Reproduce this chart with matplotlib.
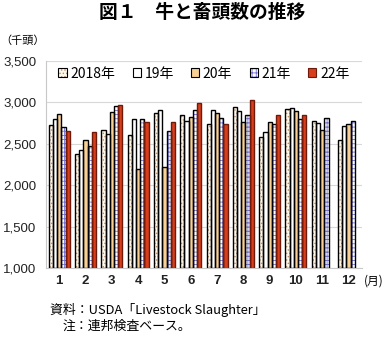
import numpy as np
import matplotlib
matplotlib.use("Agg")
import matplotlib.pyplot as plt
from matplotlib.patches import Patch
from matplotlib.legend_handler import HandlerTuple
from matplotlib.ticker import FuncFormatter

plt.rcParams['font.family'] = ['Noto Sans CJK JP', 'DejaVu Sans']
plt.rcParams['hatch.linewidth'] = 0.6

months = [str(m) for m in range(1, 13)]
years = ['2018年', '19年', '20年', '21年', '22年']

# 千頭 (no 22年 data for Nov/Dec)
y2018 = [2731, 2382, 2667, 2611, 2871, 2851, 2739, 2947, 2583, 2919, 2775, 2547]
y2019 = [2800, 2427, 2619, 2800, 2907, 2775, 2907, 2895, 2643, 2931, 2751, 2715]
y2020 = [2860, 2547, 2887, 2195, 2219, 2823, 2871, 2763, 2763, 2895, 2667, 2739]
y2021 = [2700, 2475, 2956, 2800, 2655, 2907, 2811, 2847, 2739, 2800, 2811, 2775]
y2022 = [2655, 2643, 2968, 2763, 2763, 2995, 2739, 3027, 2847, 2847]

series = [y2018, y2019, y2020, y2021, y2022]
# (face, hatch, hatch colour, edge)
styles = [
    ('#FFF8EC', '.....', '#B89068', 'black'),
    ('white', None, None, 'black'),
    ('#F8CF94', None, None, 'black'),
    ('white', '++++', '#7070D0', 'black'),
    ('#D63E1C', None, None, '#6E1A0A'),
]

fig = plt.figure(figsize=(3.84, 3.37), dpi=100)
ax = fig.add_axes([0.12, 0.205, 0.822, 0.614])

x = np.arange(1, 13)
w = 0.16
handles = []
for i, (vals, (fc, hatch, hc, ec)) in enumerate(zip(series, styles)):
    xs = x[:len(vals)] + (i - 2) * w
    base = np.array(vals) - 1000
    if hatch:
        ax.bar(xs, base, w, bottom=1000, color=fc, hatch=hatch, edgecolor=hc, lw=0, zorder=2)
        inner = Patch(facecolor=fc, hatch=hatch, edgecolor=hc, lw=0)
    else:
        ax.bar(xs, base, w, bottom=1000, color=fc, lw=0, zorder=2)
        inner = Patch(facecolor=fc, lw=0)
    ax.bar(xs, base, w, bottom=1000, fill=False, edgecolor=ec, lw=1.0, zorder=3)
    outer = Patch(fill=False, edgecolor=ec, lw=0.8)
    handles.append((inner, outer))

ax.set_xlim(0.5, 12.5)
ax.set_ylim(1000, 3500)
ax.set_yticks(range(1000, 3501, 500))
ax.yaxis.set_major_formatter(FuncFormatter(lambda v, p: f'{int(v):,}'))
ax.set_xticks(x)
ax.set_xticklabels(months)
ax.tick_params(length=0, labelsize=9.5, colors='#222222')
ax.tick_params(axis='y', pad=7)
ax.tick_params(axis='x', pad=5)
for lab in ax.get_xticklabels() + ax.get_yticklabels():
    lab.set_family('Liberation Sans')
for lab in ax.get_xticklabels():
    lab.set_fontweight('bold')
ax.grid(axis='y', color='#D8D8D8', lw=0.8, zorder=0)
for s in ['top', 'right']:
    ax.spines[s].set_visible(False)
for s in ['left', 'bottom']:
    ax.spines[s].set_color('#C8C8C8')
    ax.spines[s].set_linewidth(0.8)

ax.legend(handles, years, handler_map={tuple: HandlerTuple(ndivide=1)},
          loc='upper center', bbox_to_anchor=(0.5, 1.02), ncol=5, frameon=False,
          fontsize=10, handlelength=0.6, handleheight=0.6, handletextpad=0.25,
          columnspacing=1.25, borderaxespad=0.3)

fig.text(0.527, 0.962, '図１　牛と畜頭数の推移', ha='center', va='center',
         fontsize=13.5, fontweight='bold')
fig.text(0.0, 0.88, '（千頭）', ha='left', va='center', fontsize=8)
fig.text(0.998, 0.165, '(月)', ha='right', va='center', fontsize=8.5)
fig.text(0.13, 0.08, '資料：USDA「Livestock Slaughter」', ha='left', va='center', fontsize=9.3)
fig.text(0.163, 0.032, '注：連邦検査ベース。', ha='left', va='center', fontsize=9.3)

fig.savefig('out.png', dpi=100)
